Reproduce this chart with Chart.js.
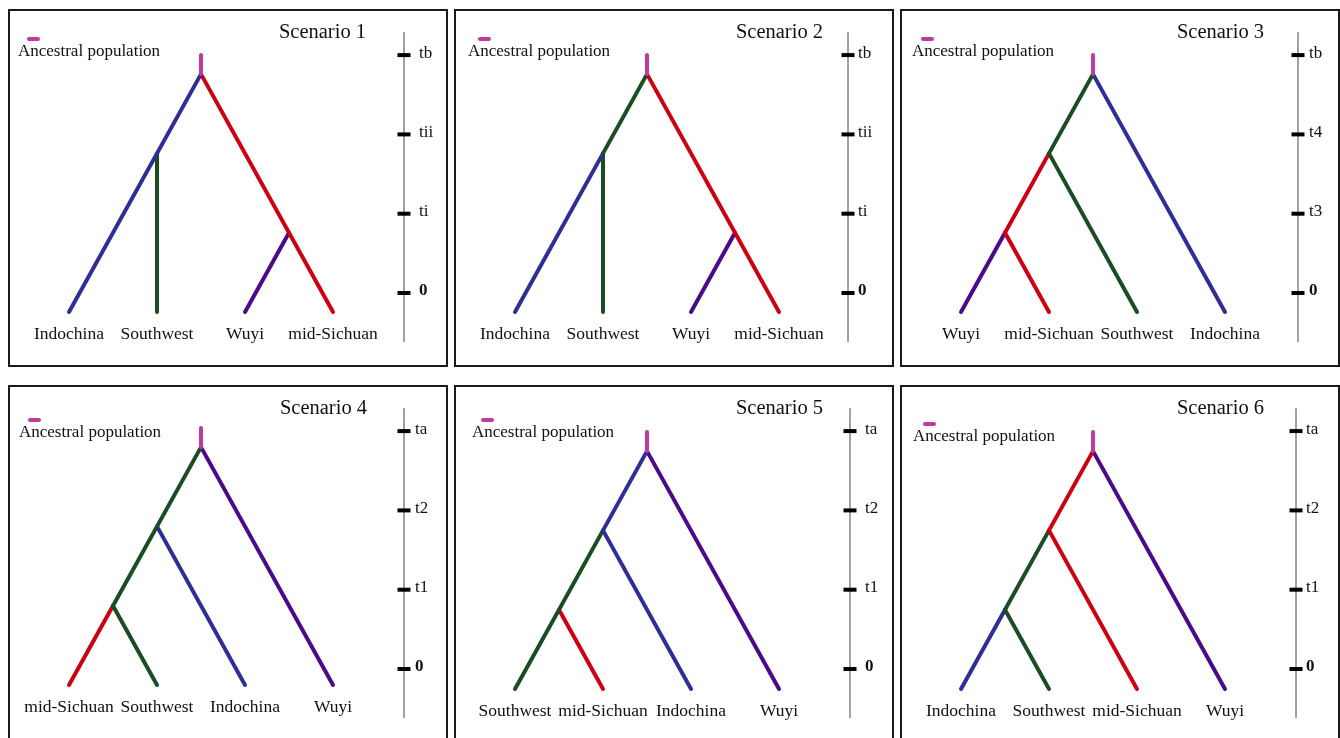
<!DOCTYPE html>
<html>
<head>
<meta charset="utf-8">
<script src="https://cdn.jsdelivr.net/npm/chart.js@4.4.1/dist/chart.umd.min.js"></script>
<style>
  html, body { margin: 0; padding: 0; background: #fff; overflow: hidden; }
  body { width: 1340px; height: 738px; position: relative; }
  canvas { position: absolute; }
</style>
</head>
<body>
<canvas id="s1" width="440" height="358" style="left:8px;top:9px"></canvas>
<canvas id="s2" width="440" height="358" style="left:454px;top:9px"></canvas>
<canvas id="s3" width="440" height="358" style="left:900px;top:9px"></canvas>
<canvas id="s4" width="440" height="358" style="left:8px;top:385px"></canvas>
<canvas id="s5" width="440" height="358" style="left:454px;top:385px"></canvas>
<canvas id="s6" width="440" height="358" style="left:900px;top:385px"></canvas>
<script>
// Tip populations, left to right, for each scenario
const tips1 = ['Indochina', 'Southwest', 'Wuyi', 'mid-Sichuan'];
const tips2 = ['Indochina', 'Southwest', 'Wuyi', 'mid-Sichuan'];
const tips3 = ['Wuyi', 'mid-Sichuan', 'Southwest', 'Indochina'];
const tips4 = ['mid-Sichuan', 'Southwest', 'Indochina', 'Wuyi'];
const tips5 = ['Southwest', 'mid-Sichuan', 'Indochina', 'Wuyi'];
const tips6 = ['Indochina', 'Southwest', 'mid-Sichuan', 'Wuyi'];

// Time axis labels from 0 up to the root
const times12 = ['0', 'ti', 'tii', 'tb'];
const times3 = ['0', 't3', 't4', 'tb'];
const times456 = ['0', 't1', 't2', 'ta'];

// Branches: [population, slot from, time from, slot to, time to]
const branches1 = [
  ['Indochina', 1.5, 3, 0, 0],
  ['Southwest', 1, 2, 1, 0],
  ['mid-Sichuan', 1.5, 3, 3, 0],
  ['Wuyi', 2.5, 1, 2, 0]
];
const branches2 = [
  ['Southwest', 1.5, 3, 1, 2],
  ['Indochina', 1, 2, 0, 0],
  ['Southwest', 1, 2, 1, 0],
  ['mid-Sichuan', 1.5, 3, 3, 0],
  ['Wuyi', 2.5, 1, 2, 0]
];
const branches3 = [
  ['Southwest', 1.5, 3, 1, 2],
  ['Southwest', 1, 2, 2, 0],
  ['mid-Sichuan', 1, 2, 0.5, 1],
  ['mid-Sichuan', 0.5, 1, 1, 0],
  ['Wuyi', 0.5, 1, 0, 0],
  ['Indochina', 1.5, 3, 3, 0]
];
const branches4 = [
  ['Southwest', 1.5, 3, 0.5, 1],
  ['Southwest', 0.5, 1, 1, 0],
  ['mid-Sichuan', 0.5, 1, 0, 0],
  ['Indochina', 1, 2, 2, 0],
  ['Wuyi', 1.5, 3, 3, 0]
];
const branches5 = [
  ['Indochina', 1.5, 3, 1, 2],
  ['Indochina', 1, 2, 2, 0],
  ['Southwest', 1, 2, 0, 0],
  ['mid-Sichuan', 0.5, 1, 1, 0],
  ['Wuyi', 1.5, 3, 3, 0]
];
const branches6 = [
  ['mid-Sichuan', 1.5, 3, 1, 2],
  ['mid-Sichuan', 1, 2, 2, 0],
  ['Southwest', 1, 2, 0.5, 1],
  ['Southwest', 0.5, 1, 1, 0],
  ['Indochina', 0.5, 1, 0, 0],
  ['Wuyi', 1.5, 3, 3, 0]
];

// Ancestral population stem above the root
const rootSlot = 1.5;
const rootTime = 3;
const stemTop = 3.24;
// Drawn extent of the time axis line
const axisRange = [-0.62, 3.29];

const popColours = {
  'Indochina': '#2e2e96',
  'Southwest': '#1b4d24',
  'Wuyi': '#4a0a8a',
  'mid-Sichuan': '#cc0010',
  'Ancestral': '#c0399c'
};

const W = 440, H = 358;
const tipX0 = 61, tipStep = 88, unit = 79.3, zeroTick = 284;
const serif = '"Liberation Serif", "Times New Roman", serif';

const panels = [
  { id: 's1', title: 'Scenario 1', tips: tips1, times: times12, branches: branches1, tipY: 303, axisX: 396, labelX: 411, titleRight: 358, legX: 19, legY: 30, textX: 10 },
  { id: 's2', title: 'Scenario 2', tips: tips2, times: times12, branches: branches2, tipY: 303, axisX: 394, labelX: 404, titleRight: 369, legX: 24, legY: 30, textX: 14 },
  { id: 's3', title: 'Scenario 3', tips: tips3, times: times3, branches: branches3, tipY: 303, axisX: 398, labelX: 409, titleRight: 364, legX: 21, legY: 30, textX: 12 },
  { id: 's4', title: 'Scenario 4', tips: tips4, times: times456, branches: branches4, tipY: 300, axisX: 396, labelX: 407, titleRight: 359, legX: 20, legY: 35, textX: 11 },
  { id: 's5', title: 'Scenario 5', tips: tips5, times: times456, branches: branches5, tipY: 304, axisX: 396, labelX: 411, titleRight: 369, legX: 27, legY: 35, textX: 18 },
  { id: 's6', title: 'Scenario 6', tips: tips6, times: times456, branches: branches6, tipY: 304, axisX: 396, labelX: 406, titleRight: 364, legX: 23, legY: 39, textX: 13 }
];

const panelText = {
  id: 'panelText',
  afterDraw(chart, args, p) {
    const ctx = chart.ctx;
    const xs = chart.scales.x, yTree = chart.scales.yTree, yTime = chart.scales.yTime;
    ctx.save();
    // frame
    ctx.strokeStyle = '#1a1a1a';
    ctx.lineWidth = 2;
    ctx.strokeRect(1, 1, W - 2, H - 2);
    ctx.fillStyle = '#111';
    ctx.textBaseline = 'middle';
    // title
    ctx.font = '20.5px ' + serif;
    ctx.textAlign = 'right';
    ctx.fillText(p.title, p.titleRight, 24);
    // legend key
    ctx.strokeStyle = popColours.Ancestral;
    ctx.lineWidth = 4;
    ctx.lineCap = 'round';
    ctx.beginPath();
    ctx.moveTo(p.legX + 2, p.legY);
    ctx.lineTo(p.legX + 11, p.legY);
    ctx.stroke();
    ctx.textAlign = 'left';
    ctx.font = '17px ' + serif;
    ctx.fillText('Ancestral population', p.textX, p.legY + 13);
    // tip labels
    ctx.textAlign = 'center';
    ctx.font = '17.5px ' + serif;
    const labelY = yTree.getPixelForValue(0) + 22;
    p.tips.forEach((name, i) => ctx.fillText(name, xs.getPixelForValue(i), labelY));
    // time labels
    ctx.textAlign = 'left';
    p.times.forEach((t, i) => {
      ctx.font = (t === '0' ? 'bold ' : '') + '17px ' + serif;
      ctx.fillText(t, p.labelX, yTime.getPixelForValue(i) - 2);
    });
    ctx.restore();
  }
};

panels.forEach(p => {
  const axisSlot = (p.axisX - tipX0) / tipStep;
  const branchSets = p.branches.map(b => ({
    data: [{ x: b[1], y: b[2] }, { x: b[3], y: b[4] }],
    borderColor: popColours[b[0]],
    borderWidth: 4,
    borderCapStyle: 'round',
    yAxisID: 'yTree'
  }));
  const stem = {
    data: [{ x: rootSlot, y: rootTime }, { x: rootSlot, y: stemTop }],
    borderColor: popColours.Ancestral,
    borderWidth: 4,
    borderCapStyle: 'round',
    yAxisID: 'yTree'
  };
  const axisLine = {
    data: axisRange.map(v => ({ x: axisSlot, y: v })),
    borderColor: '#444',
    borderWidth: 1,
    yAxisID: 'yTime'
  };
  const axisTicks = {
    data: p.times.map((t, i) => ({ x: axisSlot, y: i })),
    showLine: false,
    pointStyle: 'line',
    pointRadius: 6.5,
    pointBorderWidth: 4,
    pointBorderColor: '#000',
    yAxisID: 'yTime'
  };

  new Chart(document.getElementById(p.id).getContext('2d'), {
    type: 'scatter',
    data: { datasets: [axisTicks, stem, ...branchSets, axisLine] },
    options: {
      responsive: false,
      animation: false,
      events: [],
      devicePixelRatio: 1,
      layout: { padding: 0, autoPadding: false },
      elements: { point: { radius: 0 }, line: { tension: 0 } },
      datasets: { scatter: { showLine: true } },
      plugins: { legend: { display: false }, tooltip: { enabled: false }, panelText: p },
      scales: {
        x: { type: 'linear', display: false, min: -tipX0 / tipStep, max: (W - tipX0) / tipStep },
        yTree: { type: 'linear', display: false, min: -(H - p.tipY) / unit, max: p.tipY / unit },
        yTime: { type: 'linear', display: false, min: -(H - zeroTick) / unit, max: zeroTick / unit }
      }
    },
    plugins: [panelText]
  });
});
</script>
</body>
</html>
